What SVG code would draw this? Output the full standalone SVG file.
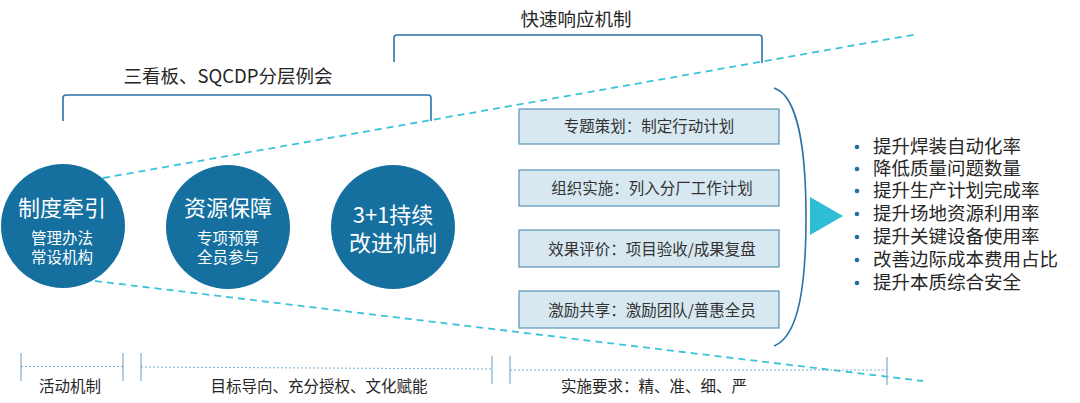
<svg xmlns="http://www.w3.org/2000/svg" width="1080" height="403" viewBox="0 0 1080 403">
<style>
text{font-family:"Noto Sans CJK SC","Noto Sans",sans-serif;fill:#262626}
.circ{fill:#15709F}
.ct{fill:#fff;text-anchor:middle}
.box{fill:#D7E8F1;stroke:#5B93B6;stroke-width:1.2}
.bt{font-size:15.5px;text-anchor:middle;fill:#333}
.brk{fill:none;stroke:#2A73A8;stroke-width:1.6}
.dash{fill:none;stroke:#3CC3DB;stroke-width:1.8;stroke-dasharray:7,5}
.tick{stroke:#7AAED0;stroke-width:1.2}
.dot{stroke:#7AAED0;stroke-width:1;stroke-dasharray:2,2}
.li{font-size:18.5px}
.bl{fill:#1F6FA3}
.ax{font-size:15.5px;text-anchor:middle}
</style>
<g id="connectors">
<path class="dash" d="M103,178 L918,34"/>
<path class="dash" d="M95,281 L923,381"/>
<path class="brk" d="M394,62 L394,38 Q394,35 397,35 L759,35 Q762,35 762,38 L762,63"/>
<path class="brk" d="M63,121 L63,98 Q63,95 66,95 L428,95 Q431,95 431,98 L431,121"/>
<path class="brk" d="M774,88 C800,96 806,160 806,217 C806,280 800,336 774,346"/>
<polygon points="810,197 843,216 810,235" fill="#2DBDD4"/>
</g>
<g id="label-top1"><text x="576" y="26" font-size="18.5" text-anchor="middle">快速响应机制</text></g>
<g id="label-top2"><text x="228" y="83" font-size="18.5" text-anchor="middle">三看板、SQCDP分层例会</text></g>
<g id="node-c1">
<circle class="circ" cx="63" cy="226" r="62"/>
<text class="ct" x="62" y="216" font-size="22">制度牵引</text>
<text class="ct" x="62" y="244" font-size="15.5">管理办法</text>
<text class="ct" x="62" y="263" font-size="15.5">常设机构</text>
</g>
<g id="node-c2">
<circle class="circ" cx="228" cy="227" r="62"/>
<text class="ct" x="228" y="216" font-size="22">资源保障</text>
<text class="ct" x="228" y="244" font-size="15.5">专项预算</text>
<text class="ct" x="228" y="263" font-size="15.5">全员参与</text>
</g>
<g id="node-c3">
<circle class="circ" cx="393" cy="227" r="62"/>
<text class="ct" x="393" y="223" font-size="22">3+1持续</text>
<text class="ct" x="393" y="251" font-size="22">改进机制</text>
</g>
<g id="node-b1"><rect class="box" x="519" y="109" width="260" height="35"/><text class="bt" x="649" y="132">专题策划：制定行动计划</text></g>
<g id="node-b2"><rect class="box" x="519" y="170" width="260" height="36"/><text class="bt" x="652" y="194">组织实施：列入分厂工作计划</text></g>
<g id="node-b3"><rect class="box" x="519" y="230" width="260" height="37"/><text class="bt" x="652" y="255">效果评价：项目验收/成果复盘</text></g>
<g id="node-b4"><rect class="box" x="519" y="291" width="260" height="37"/><text class="bt" x="652" y="316">激励共享：激励团队/普惠全员</text></g>
<g id="node-list">
<circle class="bl" cx="857" cy="147" r="2.3"/><text class="li" x="873" y="153">提升焊装自动化率</text>
<circle class="bl" cx="857" cy="169" r="2.3"/><text class="li" x="873" y="175">降低质量问题数量</text>
<circle class="bl" cx="857" cy="191" r="2.3"/><text class="li" x="873" y="197">提升生产计划完成率</text>
<circle class="bl" cx="857" cy="214" r="2.3"/><text class="li" x="873" y="220">提升场地资源利用率</text>
<circle class="bl" cx="857" cy="237" r="2.3"/><text class="li" x="873" y="243">提升关键设备使用率</text>
<circle class="bl" cx="857" cy="260" r="2.3"/><text class="li" x="873" y="266">改善边际成本费用占比</text>
<circle class="bl" cx="857" cy="283" r="2.3"/><text class="li" x="873" y="289">提升本质综合安全</text>
</g>
<g id="axis">
<line class="tick" x1="21" y1="353" x2="21" y2="381"/>
<line class="tick" x1="123" y1="353" x2="123" y2="381"/>
<line class="dot" x1="21" y1="366.5" x2="123" y2="366.5"/>
<line class="tick" x1="141" y1="353" x2="141" y2="381"/>
<line class="tick" x1="492" y1="356" x2="492" y2="384"/>
<line class="dot" x1="141" y1="367" x2="492" y2="369"/>
<line class="tick" x1="510" y1="356" x2="510" y2="384"/>
<line class="tick" x1="887" y1="357" x2="887" y2="385"/>
<line class="dot" x1="510" y1="370" x2="887" y2="370"/>
<text class="ax" x="70" y="392">活动机制</text>
<text class="ax" x="319" y="392">目标导向、充分授权、文化赋能</text>
<text class="ax" x="654" y="392">实施要求：精、准、细、严</text>
</g>
</svg>
